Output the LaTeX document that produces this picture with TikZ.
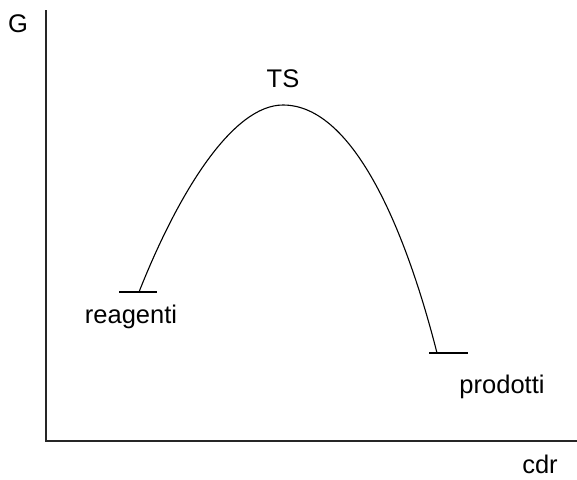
\documentclass[tikz,border=0pt]{standalone}
\usepackage{fontspec}
\setmainfont{Liberation Sans}
\begin{document}
\begin{tikzpicture}[x=1pt,y=-1pt,
  axis/.style={line width=1.5pt,black!85},
  curve/.style={line width=1.1pt},
  level/.style={line width=1.1pt},
  lbl/.style={inner sep=0pt,anchor=base,font=\fontsize{25.5}{30}\selectfont}]
\useasboundingbox (0,0) rectangle (577,479);
\coordinate (top) at (46,10);
\coordinate (origin) at (46,441);
\coordinate (right) at (577,441);
\draw[axis] (top) -- (origin) -- (right);
\coordinate (r1) at (119,292);
\coordinate (r2) at (157,292);
\coordinate (p1) at (429,353);
\coordinate (p2) at (468,353);
\coordinate (start) at (139,292);
\coordinate (peak) at (283,105);
\coordinate (stop) at (437,353);
\draw[level] (r1) -- (r2);
\draw[level] (p1) -- (p2);
\draw[curve] (start) .. controls (179,191) and (233,105) .. (peak)
  .. controls (355,105) and (407,235) .. (stop);
\node[lbl] (G) at (18,32) {G};
\node[lbl] (TS) at (283,87) {TS};
\node[lbl] (reag) at (131,323) {reagenti};
\node[lbl] (prod) at (502,393) {prodotti};
\node[lbl] (cdr) at (540,473) {cdr};
\end{tikzpicture}
\end{document}
